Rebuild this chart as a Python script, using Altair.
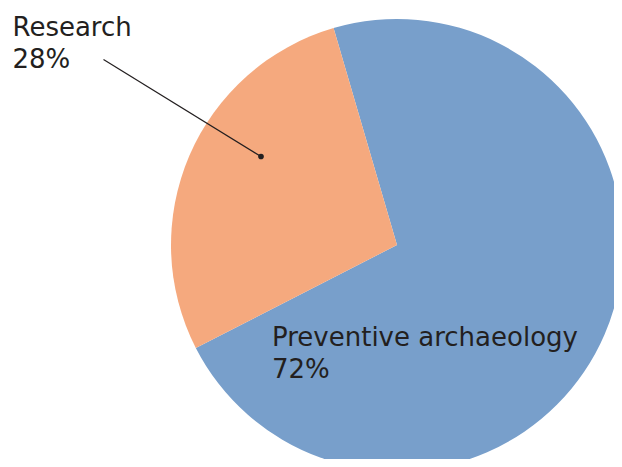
import math
import altair as alt
import pandas as pd

categories = ["Preventive archaeology", "Research"]
shares = [72, 28]
order = [1, 2]
colors = ["#789fcb", "#f5a97e"]

df = pd.DataFrame({"category": categories, "share": shares, "order": order})
df["label"] = [f"{c}\n{s}%" for c, s in zip(categories, shares)]

start = 2 * math.pi - 0.2845
W, H = 606, 451
cx, cy, R = 389, 237, 226
font = "DejaVu Sans"
ink = "#231f20"

pie = alt.Chart(df).mark_arc(outerRadius=R, stroke=None).encode(
    theta=alt.Theta("share:Q", stack=True, scale=alt.Scale(range=[start, start + 2 * math.pi])),
    color=alt.Color("category:N", scale=alt.Scale(domain=categories, range=colors), legend=None),
    order=alt.Order("order:Q"),
    x=alt.value(cx),
    y=alt.value(cy),
)

base_lbl = alt.Chart(df)
lbl_prev = base_lbl.transform_filter(alt.datum.category == categories[0]).mark_text(
    align="left", baseline="alphabetic", font=font, fontSize=26, lineBreak="\n", lineHeight=32, color=ink
).encode(text="label:N", x=alt.value(264), y=alt.value(338))

lbl_res = base_lbl.transform_filter(alt.datum.category == categories[1]).mark_text(
    align="left", baseline="alphabetic", font=font, fontSize=26, lineBreak="\n", lineHeight=32, color=ink
).encode(text="label:N", x=alt.value(4.5), y=alt.value(28))

leader = base_lbl.transform_filter(alt.datum.category == categories[1]).mark_rule(
    color=ink, strokeWidth=1.2
).encode(x=alt.value(95.5), y=alt.value(51.5), x2=alt.value(253), y2=alt.value(148.5))

dot = base_lbl.transform_filter(alt.datum.category == categories[1]).mark_point(
    filled=True, color=ink, size=32, opacity=1
).encode(x=alt.value(253), y=alt.value(148.5))

chart = alt.layer(pie, leader, dot, lbl_res, lbl_prev).properties(
    width=W, height=H, autosize=alt.AutoSizeParams(type="none"), padding=0
).configure_view(stroke=None)

chart.save("out.html", embed_options={"renderer": "svg", "actions": False})
